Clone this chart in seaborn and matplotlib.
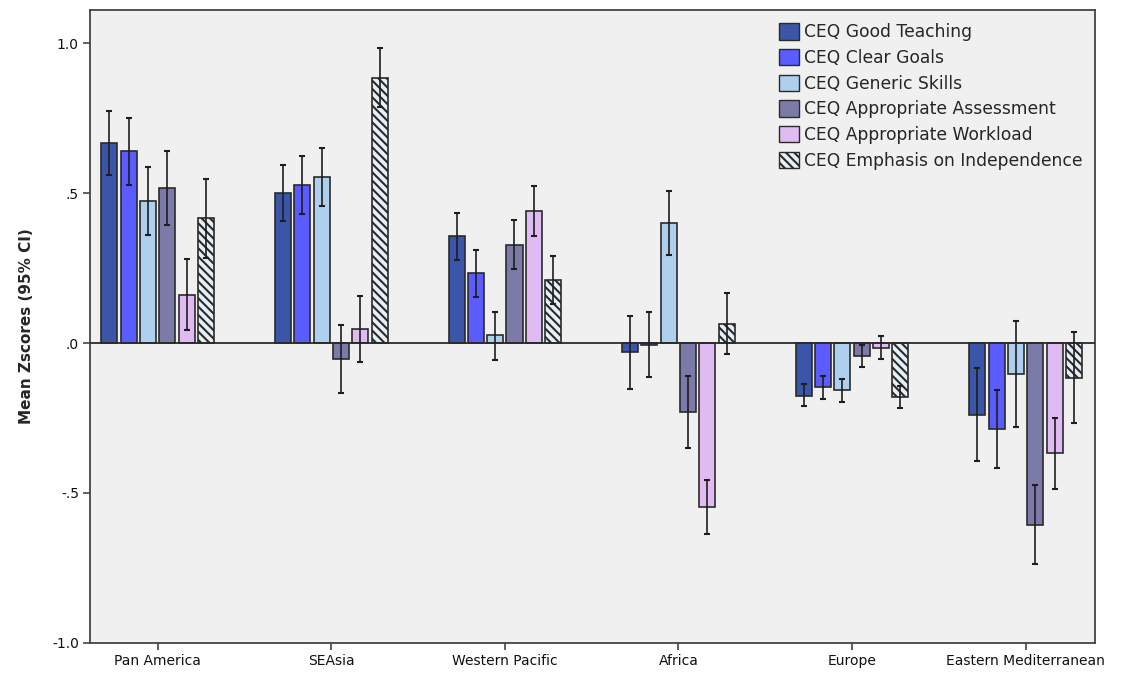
import numpy as np
import pandas as pd
import matplotlib
matplotlib.use("Agg")
import matplotlib.pyplot as plt
from matplotlib.patches import Patch
import seaborn as sns

# Regions on the x axis
regions = ["Pan America", "SEAsia", "Western Pacific", "Africa", "Europe",
           "Eastern Mediterranean"]

# CEQ scales (hue levels)
scales = ["CEQ Good Teaching", "CEQ Clear Goals", "CEQ Generic Skills",
          "CEQ Appropriate Assessment", "CEQ Appropriate Workload",
          "CEQ Emphasis on Independence"]

# Mean z-scores per scale, one value per region
good_teaching = [0.668, 0.501, 0.357, -0.031, -0.176, -0.239]
clear_goals = [0.640, 0.528, 0.232, -0.005, -0.148, -0.286]
generic_skills = [0.474, 0.553, 0.027, 0.400, -0.158, -0.103]
appr_assessment = [0.518, -0.054, 0.326, -0.231, -0.043, -0.606]
appr_workload = [0.160, 0.048, 0.441, -0.548, -0.017, -0.367]
independence = [0.418, 0.884, 0.211, 0.065, -0.181, -0.118]

# 95% CI bounds per scale
good_teaching_lo = [0.559, 0.408, 0.276, -0.154, -0.211, -0.392]
good_teaching_hi = [0.774, 0.594, 0.435, 0.091, -0.136, -0.084]
clear_goals_lo = [0.526, 0.431, 0.154, -0.113, -0.188, -0.415]
clear_goals_hi = [0.750, 0.624, 0.309, 0.104, -0.111, -0.156]
generic_skills_lo = [0.360, 0.457, -0.055, 0.293, -0.197, -0.279]
generic_skills_hi = [0.587, 0.649, 0.105, 0.506, -0.119, 0.073]
appr_assessment_lo = [0.394, -0.165, 0.246, -0.349, -0.081, -0.738]
appr_assessment_hi = [0.641, 0.059, 0.409, -0.111, -0.005, -0.473]
appr_workload_lo = [0.043, -0.062, 0.357, -0.638, -0.054, -0.486]
appr_workload_hi = [0.280, 0.157, 0.524, -0.456, 0.025, -0.250]
independence_lo = [0.282, 0.787, 0.130, -0.038, -0.216, -0.266]
independence_hi = [0.547, 0.983, 0.290, 0.168, -0.144, 0.036]

means = [good_teaching, clear_goals, generic_skills, appr_assessment,
         appr_workload, independence]
lows = [good_teaching_lo, clear_goals_lo, generic_skills_lo,
        appr_assessment_lo, appr_workload_lo, independence_lo]
highs = [good_teaching_hi, clear_goals_hi, generic_skills_hi,
         appr_assessment_hi, appr_workload_hi, independence_hi]

colors = ["#3b56a9", "#5a5cff", "#aed0ee", "#7b7aa8", "#e0baf2", "#e6eef8"]

rows = []
for s, vals in zip(scales, means):
    for r, v in zip(regions, vals):
        rows.append({"region": r, "scale": s, "mean": v})
df = pd.DataFrame(rows)

sns.set_style("white")
plt.rcParams["font.family"] = ["DejaVu Sans"]
plt.rcParams["hatch.linewidth"] = 1.5

fig = plt.figure(figsize=(11.23, 6.73), dpi=100)
ax = fig.add_axes([90 / 1123, 30 / 673, 1005 / 1123, 633 / 673])
ax.set_facecolor("#f0f0f0")

sns.barplot(data=df, x="region", y="mean", hue="scale", order=regions,
            hue_order=scales, palette=colors, saturation=1, width=0.667,
            gap=0.17, errorbar=None, edgecolor="#2a2a2a", linewidth=1.2,
            ax=ax, legend=False)

bar_groups = list(ax.containers)

# hatch the independence bars
for bar in bar_groups[5]:
    bar.set_hatch("\\\\\\\\")

# confidence interval whiskers
for i, cont in enumerate(bar_groups):
    xs = [b.get_x() + b.get_width() / 2 for b in cont]
    m = np.array(means[i])
    lo = np.array(lows[i])
    hi = np.array(highs[i])
    ax.errorbar(xs, m, yerr=[m - lo, hi - m], fmt="none", ecolor="#1e1e1e",
                elinewidth=1.2, capsize=2, capthick=1.5, zorder=5)

ax.axhline(0, color="#2a2a2a", lw=1.3, zorder=4)

ax.set_xlim(-0.39, 5.40)
ax.set_ylim(-1.0, 1.11)
ax.set_yticks([1.0, 0.5, 0.0, -0.5, -1.0])
ax.set_yticklabels(["1.0", ".5", ".0", "-.5", "-1.0"])
ax.tick_params(axis="both", direction="out", length=5, width=1.2,
               color="#444444", labelsize=10, labelcolor="#111111",
               left=True, bottom=True, pad=3)
ax.set_xlabel("")
ax.set_ylabel("Mean Zscores (95% CI)", fontsize=11, fontweight="bold",
              labelpad=13)
for sp in ax.spines.values():
    sp.set_color("#444444")
    sp.set_linewidth(1.3)

handles = [Patch(facecolor=c, edgecolor="#2a2a2a", linewidth=1.0)
           for c in colors]
handles[5].set_hatch("\\\\\\\\")
ax.legend(handles, scales, loc="upper left", bbox_to_anchor=(0.686, 0.979),
          frameon=False, fontsize=12.3, handlelength=1.15, handleheight=1.1,
          handletextpad=0.3, labelspacing=0.45, borderpad=0,
          borderaxespad=0)

fig.savefig("out.png", dpi=100, facecolor="white")
